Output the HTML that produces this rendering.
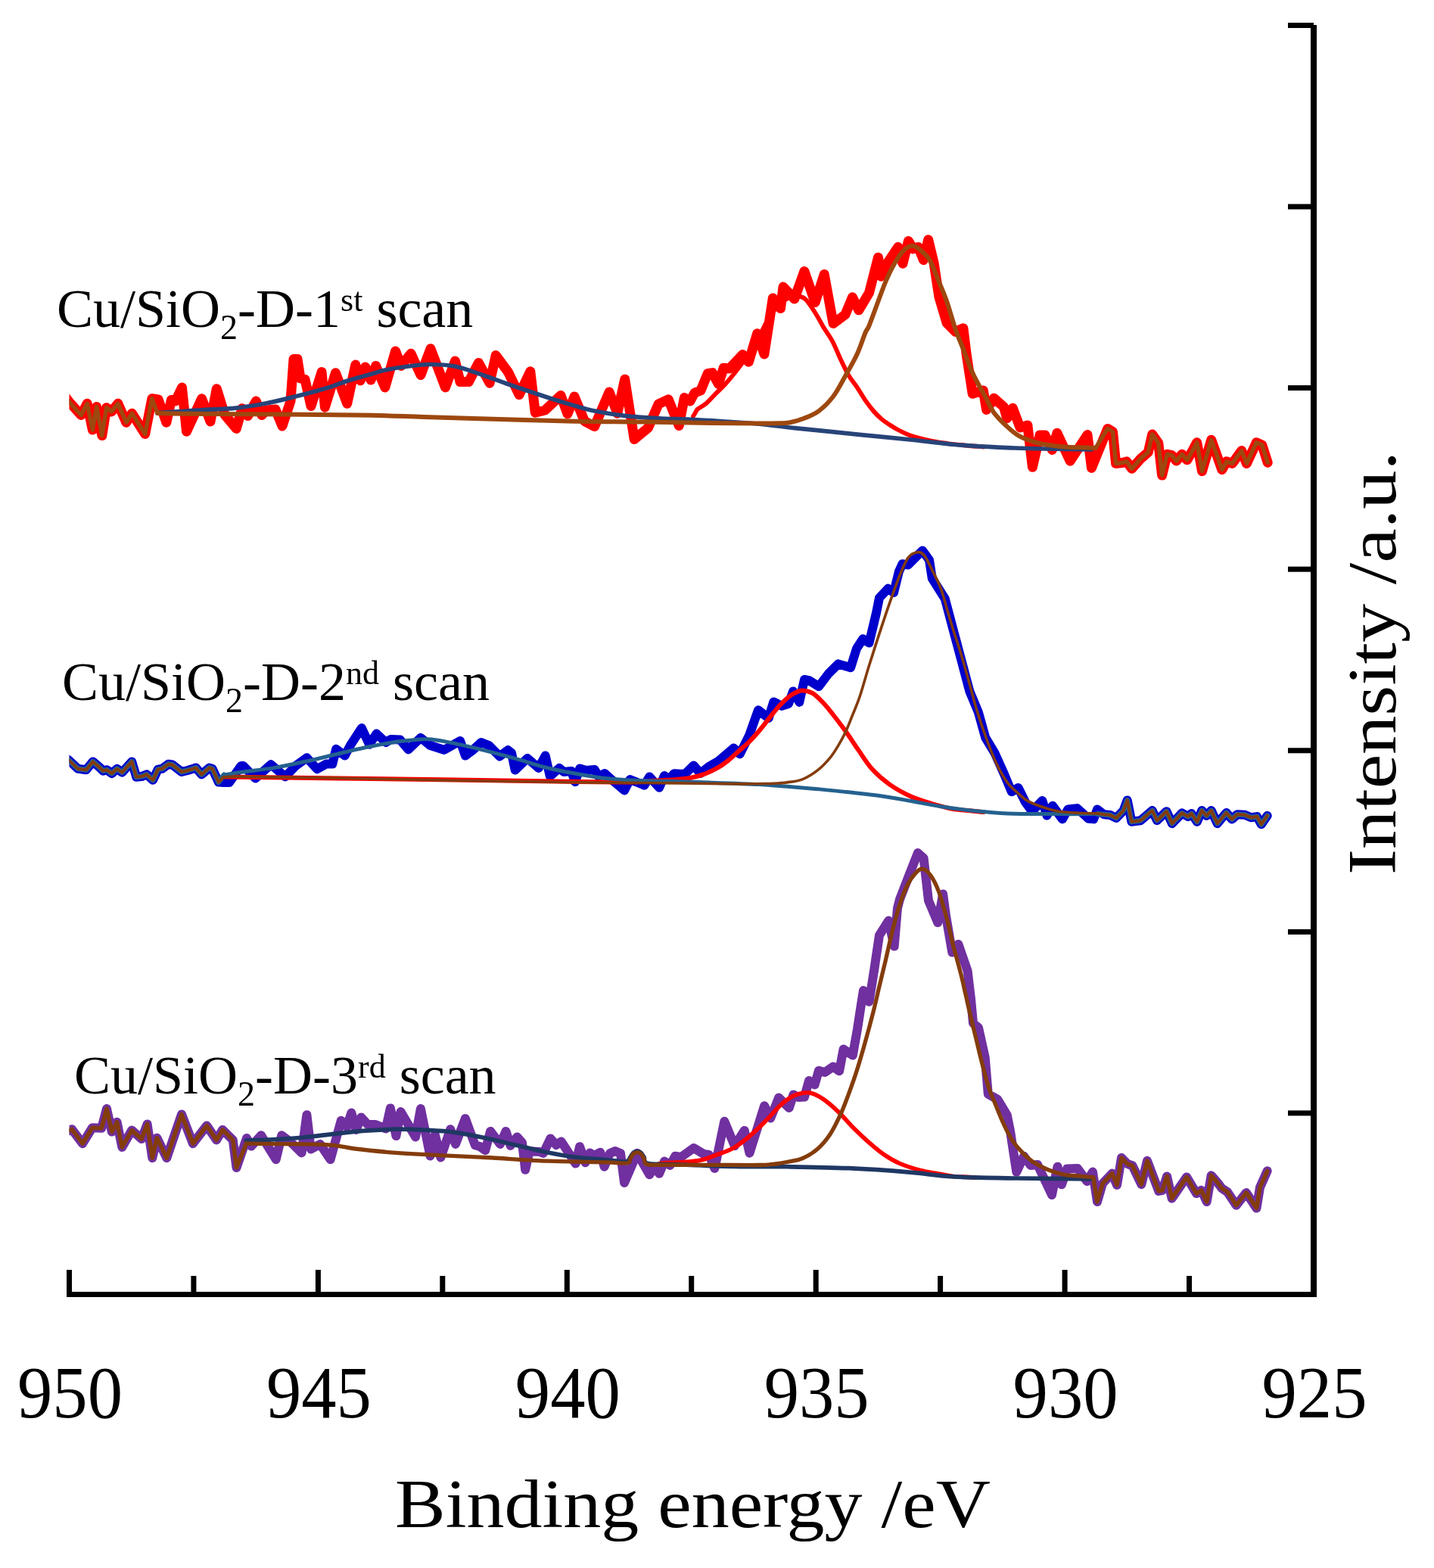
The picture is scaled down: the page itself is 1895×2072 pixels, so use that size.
<!DOCTYPE html>
<html><head><meta charset="utf-8"><title>XPS Cu 2p</title>
<style>
html,body{margin:0;padding:0;background:#fff;}
svg{display:block;}
text{font-family:"Liberation Serif","DejaVu Serif",serif;fill:#000;}
.tk{font-size:98px;}
.lb{font-size:72px;}
.ax{font-size:90px;}
</style></head><body>
<svg xmlns="http://www.w3.org/2000/svg" width="1895" height="2072" viewBox="0 0 1895 2072">
<rect width="1895" height="2072" fill="#fff"/>
<defs><clipPath id="pa"><rect x="91.5" y="0" width="1645" height="1710"/></clipPath></defs>
<g fill="none" stroke-linejoin="round" stroke-linecap="round" clip-path="url(#pa)">
<path d="M86 524 L91.4 531 L107.1 548.5 L115.2 533.3 L122.3 568 L127.7 537.6 L134.8 575.6 L140.7 538.7 L147.2 544.1 L155.9 533.3 L166.8 558.2 L174.4 546.3 L191.7 573.4 L200.9 526.8 L209.1 527.9 L219.9 558.2 L226.4 528.4 L231.8 530 L240.5 512.1 L246.5 570.2 L266.6 526.8 L278 557 L286.3 513.8 L297 548 L312.3 566.4 L319.9 539.8 L327.5 549.6 L338.3 530.1 L345.9 548.5 L352 542 L364 541 L373 563 L384 530 L388 474.5 L393 474.5 L397 500 L403 501.3 L411 536.6 L425.1 491.6 L429.4 538.2 L443.5 492.7 L458.7 533.3 L469.8 482.1 L476.3 502.9 L482.8 485 L490.1 502.1 L496.6 483.4 L508.8 511.9 L522.6 463.9 L530 483.4 L543 467.2 L556 495.6 L569 460.7 L588.5 511.9 L601.5 477 L608 504.6 L619.4 504.6 L632.4 479.4 L647.1 506.2 L655.2 469.6 L671.5 491.6 L686.1 521.7 L700.8 490.8 L707.3 545.3 L720.3 542 L741 522.5 L750 547 L759 524 L772.5 556.5 L785.6 563.6 L805.1 518 L815.9 546.2 L825.7 501.2 L838.2 580.4 L856.6 565.2 L870.2 533.8 L883.2 527.8 L897.3 562.5 L904.3 525.6 L912 530 L918 519 L926 516 L935.2 493.6 L941.4 492.6 L949.4 507.4 L956.2 486.3 L964 487 L981.3 468.6 L989.3 478.3 L1000.7 440.7 L1009.9 468 L1021.3 393.9 L1031.5 407.6 L1035 379.1 L1049.8 395 L1062.9 358.5 L1077.2 399.6 L1089.2 362.5 L1101.1 427.5 L1117.1 415.6 L1126.5 392.8 L1134.8 409.8 L1148.5 387 L1160.5 340.2 L1164.5 365.3 L1173 347 L1186.7 326.5 L1193 348.2 L1200.4 318.5 L1206.7 328.8 L1213.5 326.5 L1220.4 343.6 L1226.7 316.8 L1234 347 L1241 392.7 L1251.2 427 L1262.6 438.3 L1272.9 433.8 L1277.4 470 L1285.2 520.3 L1299.3 515.9 L1303.6 541.4 L1313.4 526.2 L1326.4 537.6 L1330.7 552.8 L1338.3 539.2 L1348 565 L1357.9 562 L1364.4 617.3 L1374.1 575 L1381 575 L1390.4 594.5 L1396.9 572.3 L1414.2 609.2 L1437 574.5 L1442.5 618.4 L1463.7 566.4 L1470.5 570.5 L1474.6 612.5 L1484.7 611.2 L1488.8 609.8 L1495.6 619.3 L1507.8 605.7 L1517.3 597.6 L1522.7 573.9 L1530.8 585.4 L1535.6 628.1 L1542.4 600.3 L1548.5 601.7 L1554.6 609.1 L1562 600.3 L1568.8 607.8 L1575 597 L1581.7 584.7 L1588.5 622.7 L1600.7 581.3 L1614.9 620.7 L1621 609.8 L1628.4 612.5 L1640.7 595.6 L1647.4 612.5 L1660.3 584.7 L1667.8 588.1 L1675.2 611.2" stroke="#ff0000" stroke-width="13"/>
<path d="M916 550 C916.4 549.3 917.5 547.6 918.5 546 C919.5 544.4 919.8 542.5 922 540.5 C924.2 538.5 928.2 537.2 932 534 C935.8 530.8 940.6 525.4 945 521 C949.4 516.6 954.1 512.3 958.5 507.5 C962.9 502.7 967.1 497.6 971.5 492 C975.9 486.4 980.2 480.8 985 474 C989.8 467.2 995 459.7 1000 451 C1005 442.3 1010 430.2 1015 422 C1020 413.8 1025 406.9 1030 402 C1035 397.1 1040.8 394.2 1045 392.5 C1049.2 390.8 1051.7 390.9 1055 391.5 C1058.3 392.1 1061.1 392.1 1065 396 C1068.9 399.9 1074.5 409 1078.3 415 C1082.1 421 1084.4 426 1088 432 C1091.6 438 1096.2 443.7 1100 450.8 C1103.8 457.9 1107.2 467.1 1110.8 474.7 C1114.4 482.3 1118.1 490.2 1121.7 496.4 C1125.3 502.5 1128.9 506.2 1132.5 511.6 C1136.1 517 1139.8 523.7 1143.4 528.9 C1147 534.1 1150.6 538.8 1154.2 543 C1157.8 547.2 1161.5 550.8 1165.1 553.9 C1168.7 557 1172.3 559.1 1175.9 561.5 C1179.5 563.9 1182.3 565.7 1186.8 568 C1191.3 570.3 1195.8 573.1 1203 575.5 C1210.2 577.9 1222 580.8 1230.2 582.5 C1238.4 584.2 1243.7 584.9 1252 586 C1260.3 587.1 1272 588.2 1280 589 C1288 589.8 1296.7 590.2 1300 590.5" stroke="#ff0000" stroke-width="5.8"/>
<path d="M208 545.7 C213.3 545.3 229.7 544.2 240 543.5 C250.3 542.8 258.3 542.2 270 541.5 C281.7 540.8 296.7 540.7 310 539.3 C323.3 537.9 336.7 535.8 350 533.3 C363.3 530.8 376.7 527.4 390 524.1 C403.3 520.8 418.3 516.8 430 513.3 C441.7 509.8 450 506.1 460 503 C470 499.9 481.8 496.8 490 494.5 C498.2 492.2 500.7 490.8 509 489 C517.3 487.2 530.3 485.2 540 484 C549.7 482.8 556.8 481.5 567 481.5 C577.2 481.5 589 481.6 601 484 C613 486.4 627.3 492.1 639 496 C650.7 499.9 657.5 502.8 671 507.5 C684.5 512.2 708.2 520.1 720 524 C731.8 527.9 735.3 529 742 531 C748.7 533 753.2 534.4 760 536.3 C766.8 538.2 771.8 540.3 783 542.5 C794.2 544.7 812.5 547.9 827 549.6 C841.5 551.3 855.7 552 870 552.8 C884.3 553.6 898.3 553.7 913 554.4 C927.7 555.1 943.5 556.1 958 557 C972.5 557.9 984.7 558.6 1000 560 C1015.3 561.4 1033.3 563.8 1050 565.6 C1066.7 567.4 1082.7 569 1100 570.7 C1117.3 572.5 1136 574.3 1154 576.1 C1172 577.9 1190 579.6 1208 581.5 C1226 583.4 1246.7 586 1262 587.5 C1277.3 589 1287 589.5 1300 590.2 C1313 591 1327 591.5 1340 592 C1353 592.5 1361 592.7 1378 593 C1395 593.3 1431.3 593.8 1442 594" stroke="#274479" stroke-width="5.7"/>
<path d="M86 524 L91.4 531 L107.1 548.5 L115.2 533.3 L122.3 568 L127.7 537.6 L134.8 575.6 L140.7 538.7 L147.2 544.1 L155.9 533.3 L166.8 558.2 L174.4 546.3 L191.7 573.4 L200.9 526.8 L208 546" stroke="#9d480f" stroke-width="5.5"/>
<path d="M208 546 C218.3 546.1 226.3 546.5 270 546.9 C313.7 547.3 421.7 547.8 470 548.5 C518.3 549.2 528.3 550.1 560 551 C591.7 551.9 626.7 553 660 554 C693.3 555 728.3 556.1 760 556.7 C791.7 557.3 820 557.1 850 557.5 C880 557.9 915 558.7 940 559 C965 559.3 985 559.5 1000 559.5 C1015 559.5 1022.7 559.5 1030 559.3 C1037.3 559.1 1038.7 559.2 1044 558.2 C1049.3 557.2 1055.7 555.5 1062 553 C1068.3 550.5 1075.2 548.1 1081.7 543.3 C1088.2 538.5 1095.1 531.7 1101 524 C1106.9 516.3 1111.8 506.3 1117 497 C1122.2 487.7 1128.1 477.7 1132.5 468.2 C1136.9 458.7 1140.7 446.3 1143.4 440 C1146.1 433.7 1145.7 437.1 1148.5 430.3 C1151.3 423.6 1156.2 409.6 1160 399.5 C1163.8 389.4 1167.5 378.6 1171.3 369.9 C1175.1 361.1 1178.9 353.5 1182.7 347 C1186.5 340.5 1190.4 334.8 1194.2 331.1 C1198 327.4 1201.8 324.8 1205.6 324.8 C1209.4 324.8 1213.2 328 1217 331.1 C1220.8 334.2 1224.6 337.1 1228.4 343.6 C1232.2 350.1 1236 360.8 1239.8 369.9 C1243.6 379 1247.4 387.5 1251.2 398.4 C1255 409.2 1258.9 424.2 1262.6 435 C1266.3 445.8 1269.9 453.7 1273.5 463 C1277.1 472.3 1281.2 483.5 1284.4 491 C1287.7 498.5 1290 502.3 1293 508 C1296 513.7 1299.1 518.8 1302.5 525 C1305.9 531.2 1308.9 538.9 1313.4 545.2 C1317.9 551.5 1324.3 557.5 1329.7 562.6 C1335.1 567.7 1339.6 572 1345.9 575.6 C1352.2 579.2 1360.4 582.1 1367.6 584.3 C1374.8 586.5 1382.1 587.5 1389.3 588.6 C1396.5 589.7 1401.2 590.3 1411 590.8 C1420.8 591.3 1441.8 591.6 1448 591.8" stroke="#9d480f" stroke-width="6"/>
<path d="M1448 591.8 L1463.7 566.4 L1470.5 570.5 L1474.6 612.5 L1484.7 611.2 L1488.8 609.8 L1495.6 619.3 L1507.8 605.7 L1517.3 597.6 L1522.7 573.9 L1530.8 585.4 L1535.6 628.1 L1542.4 600.3 L1548.5 601.7 L1554.6 609.1 L1562 600.3 L1568.8 607.8 L1575 597 L1581.7 584.7 L1588.5 622.7 L1600.7 581.3 L1614.9 620.7 L1621 609.8 L1628.4 612.5 L1640.7 595.6 L1647.4 612.5 L1660.3 584.7 L1667.8 588.1 L1675.2 611.2" stroke="#9d480f" stroke-width="5.5"/>
<path d="M86 1001 L91.5 1005.1 L103 1015.9 L113.9 1017.3 L122.7 1006.4 L131.5 1013.9 L136.3 1018.6 L141 1017.3 L147.8 1022 L154.6 1015.9 L161.3 1020.7 L174.2 1006.4 L180.3 1026.8 L187.1 1026.1 L193.9 1023.4 L202 1030.8 L208.8 1016.6 L214.2 1015.9 L222.4 1009.8 L227.8 1010.5 L240 1020 L248.1 1018 L259 1014.6 L266.4 1023.4 L276.6 1014.6 L280.7 1016 L288.8 1033.5 L296 1034 L303 1034 L318.6 1012 L321.4 1012 L337.6 1028.5 L358 1010.2 L377 1026.4 L390.5 1012.2 L405.4 1001.3 L419 1016.3 L431.2 1009.5 L439.3 1009.5 L444.1 989.8 L455.6 998.6 L463.7 983.7 L477.9 962 L488.1 983.7 L497.6 969.5 L509.8 981 L516.6 976.9 L528.8 977.6 L539.6 990.5 L555.9 974.9 L568.5 985.1 L587.1 990.9 L608.1 979 L614.9 998.6 L624 992 L635.9 981 L646 985 L660.3 999.4 L671.2 991.2 L676 995 L680.7 1017.6 L696.9 1002 L711.8 1014.9 L720.7 998.6 L726.8 1025.7 L739 1014.9 L745 1020 L755 1019 L760 1033.2 L766.1 1015.6 L775 1018 L785.7 1016.9 L791 1026 L799 1022 L808 1030 L825.1 1044.5 L832.5 1030.1 L845 1035 L851.5 1037.7 L858.3 1026.4 L871.2 1040.7 L878 1025 L884 1030 L890.8 1022.3 L905 1023 L916.6 1011.5 L925.5 1022 L936.9 1012.9 L949 1006 L969.5 988.5 L977.6 996.6 L990 972 L1002 938.3 L1015.6 949.1 L1022.3 927.5 L1033.2 932.9 L1042 930 L1048.1 913.5 L1056.3 927.9 L1063 898 L1069.1 899.1 L1082 907.2 L1095 890 L1107.8 877.4 L1124.1 882.2 L1132 857 L1140.3 844.2 L1148.5 849.6 L1158 810 L1162 790 L1173.5 777.8 L1181 783.2 L1188 755 L1192.5 745.2 L1200 746.6 L1219 727.6 L1228 740 L1231.8 764.2 L1248.8 791.3 L1259.6 832 L1270.5 872.7 L1281.3 913.4 L1292.7 940.7 L1302.2 974.6 L1314.4 994.9 L1326.6 1022 L1336.8 1046.3 L1345.6 1041 L1355 1060 L1363.9 1072.2 L1377.4 1058 L1383.5 1077.6 L1391 1064.7 L1403.9 1082.4 L1411.3 1069.5 L1423.5 1068.1 L1438.4 1081.7 L1445.2 1082.4 L1450 1069.5 L1458.8 1076.2 L1466.9 1076.9 L1475 1081 L1484.6 1071.1 L1489.7 1057.4 L1495.4 1085.9 L1507.3 1084.2 L1522.7 1071.1 L1529 1084.2 L1541.5 1072.2 L1548.9 1088.2 L1562 1074.5 L1570 1079.1 L1574.5 1075.1 L1581.9 1085.9 L1588.2 1071.1 L1594.5 1077.9 L1600.7 1071.1 L1608.7 1088.2 L1620.6 1074 L1628 1082.5 L1634.9 1076.2 L1645.1 1076.8 L1653.1 1080.2 L1661.1 1079.1 L1666.8 1089.3 L1674.7 1077.9" stroke="#0000cc" stroke-width="12"/>
<path d="M296 1026.5 C346.7 1027.2 514.3 1029.3 600 1030.5 C685.7 1031.7 766.7 1033.3 810 1033.6 C853.3 1033.8 847.2 1032.5 860 1032 C872.8 1031.5 878.7 1031.1 886.8 1030.5 C894.9 1029.9 901.5 1029.6 908.5 1028.5 C915.5 1027.4 922 1026.1 928.8 1023.7 C935.6 1021.3 943.5 1017.4 949.1 1014.2 C954.8 1011 958.2 1008.3 962.7 1004.7 C967.2 1001.1 971.7 996.5 976.2 992.5 C980.7 988.5 985.3 985 989.8 980.5 C994.3 976 998.9 970.8 1003.4 965.5 C1007.9 960.2 1012.4 954.1 1016.9 948.5 C1021.4 942.9 1026 936.8 1030.5 932 C1035 927.2 1040.4 922.3 1044 919.5 C1047.6 916.7 1049.3 916.2 1052 915 C1054.7 913.8 1056.6 912.3 1060.3 912.5 C1064 912.7 1069.4 913.5 1073.9 916.1 C1078.4 918.7 1083 923.6 1087.5 928.3 C1092 933 1096 938.2 1101 944.5 C1106 950.8 1111.6 958.2 1117.3 966.1 C1123 974 1129 983.5 1134.9 991.9 C1140.8 1000.3 1145.7 1008.8 1152.5 1016.3 C1159.3 1023.8 1167.2 1030.6 1175.6 1036.6 C1184 1042.5 1193.7 1047.8 1202.7 1052 C1211.7 1056.2 1220.8 1058.8 1229.8 1061.5 C1238.8 1064.2 1247.9 1066.8 1256.9 1068.5 C1265.9 1070.2 1276.8 1070.8 1284 1071.5 C1291.2 1072.2 1297.3 1072.8 1300 1073" stroke="#ff0000" stroke-width="6"/>
<path d="M86 1001 L91.5 1005.1 L103 1015.9 L113.9 1017.3 L122.7 1006.4 L131.5 1013.9 L136.3 1018.6 L141 1017.3 L147.8 1022 L154.6 1015.9 L161.3 1020.7 L174.2 1006.4 L180.3 1026.8 L187.1 1026.1 L193.9 1023.4 L202 1030.8 L208.8 1016.6 L214.2 1015.9 L222.4 1009.8 L227.8 1010.5 L240 1020 L248.1 1018 L259 1014.6 L266.4 1023.4 L276.6 1014.6 L280.7 1016 L288.8 1033.5 L296 1024" stroke="#24618f" stroke-width="7"/>
<path d="M296 1024 C300 1023.4 309.2 1021.8 320 1020.3 C330.8 1018.8 347.1 1017.1 360.7 1014.9 C374.2 1012.6 387.8 1009.7 401.3 1006.8 C414.9 1003.9 428.4 1000.5 442 997.3 C455.6 994.1 469.1 990.6 482.7 987.8 C496.3 985 512.2 982 523.4 980.3 C534.6 978.6 542.2 978 550 977.5 C557.8 977 561.5 976.2 570 977 C578.5 977.8 588.8 979.9 600.7 982.4 C612.6 984.9 627.8 988.5 641.3 991.9 C654.8 995.3 668.4 998.9 682 1002.7 C695.6 1006.5 709.1 1011.1 722.7 1014.5 C736.3 1017.9 750.5 1020.5 763.4 1022.8 C776.3 1025.1 787.2 1027.1 800 1028.5 C812.8 1029.9 826.5 1030.7 840 1031.3 C853.5 1031.9 865.4 1031.8 881.3 1032.3 C897.2 1032.8 915.2 1033.3 935.6 1034 C956 1034.7 986 1035.7 1003.4 1036.6 C1020.8 1037.5 1027.1 1038.3 1040 1039.3 C1052.9 1040.3 1067.2 1041.5 1080.7 1042.7 C1094.2 1044 1107.8 1045.3 1121.3 1046.8 C1134.8 1048.3 1148.4 1049.6 1162 1051.5 C1175.6 1053.4 1189.1 1055.9 1202.7 1058.3 C1216.3 1060.7 1228.9 1063.5 1243.4 1065.7 C1258 1068 1275.3 1070.3 1290 1071.8 C1304.7 1073.3 1315.4 1074.3 1331.3 1074.9 C1347.2 1075.5 1365.7 1075.5 1385.6 1075.6 C1405.5 1075.7 1439.8 1075.6 1450.7 1075.6" stroke="#24618f" stroke-width="5"/>
<path d="M1450.7 1075.6 L1458.8 1076.2 L1466.9 1076.9 L1475 1081 L1484.6 1071.1 L1489.7 1057.4 L1495.4 1085.9 L1507.3 1084.2 L1522.7 1071.1 L1529 1084.2 L1541.5 1072.2 L1548.9 1088.2 L1562 1074.5 L1570 1079.1 L1574.5 1075.1 L1581.9 1085.9 L1588.2 1071.1 L1594.5 1077.9 L1600.7 1071.1 L1608.7 1088.2 L1620.6 1074 L1628 1082.5 L1634.9 1076.2 L1645.1 1076.8 L1653.1 1080.2 L1661.1 1079.1 L1666.8 1089.3 L1674.7 1077.9" stroke="#24618f" stroke-width="7"/>
<path d="M86 1001 L91.5 1005.1 L103 1015.9 L113.9 1017.3 L122.7 1006.4 L131.5 1013.9 L136.3 1018.6 L141 1017.3 L147.8 1022 L154.6 1015.9 L161.3 1020.7 L174.2 1006.4 L180.3 1026.8 L187.1 1026.1 L193.9 1023.4 L202 1030.8 L208.8 1016.6 L214.2 1015.9 L222.4 1009.8 L227.8 1010.5 L240 1020 L248.1 1018 L259 1014.6 L266.4 1023.4 L276.6 1014.6 L280.7 1016 L288.8 1033.5 L296 1026.8" stroke="#843c0c" stroke-width="4"/>
<path d="M296 1026.8 C300 1026.7 294.3 1026.2 320 1026.4 C345.7 1026.7 403.3 1027.5 450 1028.3 C496.7 1029.1 558.3 1030.5 600 1031.3 C641.7 1032 665 1032.3 700 1032.8 C735 1033.3 777.5 1033.9 810 1034.3 C842.5 1034.7 867.3 1034.6 895 1034.9 C922.7 1035.2 955.7 1035.8 976 1035.9 C996.3 1036 1008 1035.7 1017 1035.5 C1026 1035.3 1026.2 1035.1 1030 1034.8 C1033.8 1034.5 1035 1034.7 1040 1033.9 C1045 1033.1 1053.5 1032.5 1060.3 1029.8 C1067.1 1027.1 1074.6 1022.4 1080.7 1017.6 C1086.8 1012.9 1092.4 1006.7 1096.9 1001.3 C1101.4 995.9 1104.4 990.7 1107.8 985.1 C1111.2 979.5 1114.1 974.3 1117.3 967.5 C1120.5 960.7 1123.6 952.3 1126.8 944.4 C1130 936.5 1132.7 930.8 1136.3 920 C1139.9 909.2 1144.2 893.3 1148.5 879.5 C1152.8 865.7 1157.5 851.2 1162 837.4 C1166.5 823.6 1171.1 809.7 1175.6 796.8 C1180.1 783.9 1185 770.2 1189.1 760.2 C1193.2 750.2 1196.2 742.2 1200 737.1 C1203.8 732 1208.6 730.2 1212.2 729.7 C1215.8 729.2 1218.3 730.2 1221.7 734.4 C1225.1 738.6 1228.9 747.5 1232.5 754.7 C1236.1 761.9 1240.2 769.4 1243.4 777.8 C1246.6 786.2 1248.8 795.9 1251.5 804.9 C1254.2 813.9 1256.4 821.8 1259.6 832 C1262.8 842.2 1266.9 853.9 1270.5 865.9 C1274.1 877.9 1277.9 892 1281.3 904 C1284.7 916 1286.9 925.7 1290.7 938 C1294.5 950.3 1299.7 965.8 1304.2 978 C1308.7 990.2 1313.3 1001.8 1317.8 1011.2 C1322.3 1020.6 1326.8 1028.1 1331.3 1034.2 C1335.8 1040.3 1340.4 1043.7 1344.9 1047.8 C1349.4 1051.9 1352.8 1055.4 1358.5 1058.6 C1364.2 1061.8 1372 1064.5 1378.8 1066.8 C1385.6 1069.1 1391.2 1071 1399.1 1072.2 C1407 1073.4 1417.6 1073.8 1426.2 1074.2 C1434.8 1074.7 1446.6 1074.8 1450.7 1074.9" stroke="#843c0c" stroke-width="3.6"/>
<path d="M1450.7 1074.9 L1458.8 1076.2 L1466.9 1076.9 L1475 1081 L1484.6 1071.1 L1489.7 1057.4 L1495.4 1085.9 L1507.3 1084.2 L1522.7 1071.1 L1529 1084.2 L1541.5 1072.2 L1548.9 1088.2 L1562 1074.5 L1570 1079.1 L1574.5 1075.1 L1581.9 1085.9 L1588.2 1071.1 L1594.5 1077.9 L1600.7 1071.1 L1608.7 1088.2 L1620.6 1074 L1628 1082.5 L1634.9 1076.2 L1645.1 1076.8 L1653.1 1080.2 L1661.1 1079.1 L1666.8 1089.3 L1674.7 1077.9" stroke="#843c0c" stroke-width="4"/>
<path d="M86 1493 L91.5 1494.2 L94.9 1492.2 L109.1 1511.2 L122 1490.2 L134.2 1490.8 L141 1465.1 L147.8 1495.6 L154.6 1482.7 L161.3 1515.9 L174.2 1493.6 L187.1 1505.1 L194.6 1485.4 L201.3 1530.2 L207.4 1503.7 L220.3 1530.2 L240 1472.5 L254.9 1511.2 L273.2 1487.5 L286.1 1506.4 L294.2 1492.9 L307.8 1506.4 L312.5 1543 L326 1504 L332.2 1514.6 L345.1 1500.3 L364.7 1532.2 L372.2 1500.3 L385 1510 L398.6 1523.4 L405.4 1473.2 L410.8 1518.6 L423 1511.9 L436.6 1532.2 L450.8 1480.7 L458.3 1489 L464.4 1470.5 L470.5 1492.9 L477.3 1476.6 L486 1486 L496.2 1486.1 L509.8 1491.5 L515.9 1464.4 L523.4 1501 L529.5 1469.1 L549.1 1502.4 L555.9 1465.1 L568.5 1527.5 L574.9 1499.7 L582.4 1529.5 L595.2 1492.2 L602 1511.9 L614.9 1478 L627.8 1513.2 L634 1515 L641.3 1520 L648.1 1494.9 L661 1511.9 L668.5 1494.9 L674.6 1513.9 L683.4 1502.4 L690 1510 L694.2 1545.7 L699.6 1521.3 L713 1522 L718 1524 L727.4 1504.4 L735 1513 L741.7 1508.5 L760.7 1537.6 L766.1 1515.2 L773.5 1536.3 L779.6 1523.4 L785 1527 L793.2 1522.7 L798.6 1541.7 L806 1524 L812.9 1521.1 L820 1524 L825.1 1563 L842 1523.7 L858.3 1552.3 L865 1542 L871.2 1550.8 L878 1534.6 L885.4 1540 L892.2 1527.8 L900 1529 L916.6 1517 L930 1525 L937 1526 L944.4 1544 L957.3 1481.7 L970.8 1514.2 L983.7 1493.9 L990.5 1523.7 L1010.1 1461.3 L1018.3 1477.6 L1029.1 1450.5 L1042.7 1464.1 L1048.5 1446.4 L1055 1450 L1063 1449.5 L1069.1 1428 L1076.6 1433.4 L1082 1414.7 L1090 1417 L1101 1409.5 L1109.1 1415.3 L1114.6 1386.4 L1126.8 1394.6 L1133 1360 L1137.6 1330 L1141 1308.8 L1148.5 1323.7 L1155 1283 L1162 1236 L1174.2 1216.6 L1181.7 1250.5 L1186 1200 L1189.1 1188.1 L1200 1160 L1212.9 1127.1 L1220.6 1134 L1227 1190 L1239.3 1219.3 L1246.1 1181.4 L1250 1210 L1258.3 1258.6 L1266.4 1247.8 L1278.6 1283 L1283 1320 L1286 1352 L1293 1358 L1301.7 1397.2 L1305.8 1445.8 L1318.3 1452.8 L1330.8 1473.6 L1335 1494.4 L1343.3 1548.6 L1353 1527.8 L1362 1540 L1371.1 1539 L1390 1579 L1397.5 1541.7 L1403 1565.3 L1410 1544.4 L1424 1544 L1436.4 1561.1 L1444 1548.6 L1450 1588 L1457 1564 L1469.7 1550.5 L1476 1566 L1482 1530 L1490 1538.1 L1496.5 1540.3 L1508.4 1565.2 L1516 1533.8 L1531.2 1573.9 L1536 1573 L1542.1 1554.4 L1548.6 1583.6 L1568.1 1555.4 L1581.1 1577.1 L1587.6 1572.8 L1594.7 1588 L1600.6 1553.3 L1610 1564 L1614.6 1570.3 L1622 1575.1 L1633.7 1592.7 L1646.9 1576.1 L1660.5 1596.6 L1665 1569 L1674.7 1547.3" stroke="#7030a0" stroke-width="12"/>
<path d="M870 1538 C871.9 1537.8 872.6 1537.3 881.3 1536.6 C890 1535.9 910.7 1535.8 922 1533.9 C933.3 1532 941.2 1527.9 949.1 1525.1 C957 1522.3 962.7 1520.8 969.5 1516.9 C976.3 1513.1 983 1507.7 989.8 1502 C996.6 1496.3 1003.3 1489.8 1010.1 1483 C1016.9 1476.2 1025.2 1466.5 1030.5 1461.3 C1035.8 1456.1 1038.2 1454.5 1042 1452 C1045.8 1449.5 1049 1447.4 1053.6 1446.1 C1058.2 1444.8 1064.1 1443 1069.8 1444 C1075.5 1445 1081.2 1448 1087.5 1452.2 C1093.8 1456.4 1101 1462.7 1107.8 1469.1 C1114.6 1475.5 1121.3 1484 1128.1 1490.8 C1134.9 1497.6 1141.7 1503.9 1148.5 1509.8 C1155.3 1515.7 1162 1521.5 1168.8 1526.1 C1175.6 1530.7 1181.2 1534.1 1189.1 1537.5 C1197 1540.9 1207.7 1544.2 1216.2 1546.5 C1224.7 1548.8 1232.7 1549.7 1240 1551 C1247.3 1552.3 1251.7 1553.7 1260 1554.5 C1268.3 1555.3 1285 1555.8 1290 1556" stroke="#ff0000" stroke-width="5.7"/>
<path d="M325.4 1507.1 C331.3 1506.9 348 1506.5 360.7 1505.8 C373.4 1505.1 387.8 1504.2 401.3 1503 C414.9 1501.8 428.4 1499.8 442 1498.3 C455.6 1496.8 469.1 1495.2 482.7 1494.2 C496.3 1493.2 510.5 1492.4 523.4 1492.2 C536.3 1492 547.1 1492.5 560 1493.2 C572.9 1493.9 587.2 1494.5 600.7 1496.3 C614.2 1498 627.8 1500.9 641.3 1503.7 C654.8 1506.5 668.4 1510 682 1513.2 C695.6 1516.4 709.1 1520 722.7 1522.7 C736.3 1525.4 750.5 1527.9 763.4 1529.5 C776.3 1531.1 789.4 1531.6 800 1532.5 C810.6 1533.4 821.5 1535.6 827 1535 C832.5 1534.4 831.2 1531.1 833 1529 C834.8 1526.9 835.8 1523.6 838 1522.5 C840.2 1521.4 843.8 1521.4 846 1522.5 C848.2 1523.6 849.2 1526.5 851 1529 C852.8 1531.5 848.8 1535.8 857 1537.5 C865.2 1539.2 881.2 1538.3 900 1539 C918.8 1539.7 946.2 1541 969.5 1541.5 C992.8 1542 1014.7 1541.3 1040 1541.7 C1065.3 1542.1 1094.2 1542.5 1121.3 1543.7 C1148.4 1544.9 1179.6 1547.2 1202.7 1549.1 C1225.8 1551 1236.6 1553.6 1260 1554.9 C1283.4 1556.2 1312.5 1556.5 1343.3 1557 C1374.1 1557.5 1428 1557.7 1445 1557.8" stroke="#1f3864" stroke-width="5.7"/>
<path d="M86 1493 L91.5 1494.2 L94.9 1492.2 L109.1 1511.2 L122 1490.2 L134.2 1490.8 L141 1465.1 L147.8 1495.6 L154.6 1482.7 L161.3 1515.9 L174.2 1493.6 L187.1 1505.1 L194.6 1485.4 L201.3 1530.2 L207.4 1503.7 L220.3 1530.2 L240 1472.5 L254.9 1511.2 L273.2 1487.5 L286.1 1506.4 L294.2 1492.9 L307.8 1506.4 L312.5 1543 L325.4 1511.2" stroke="#843c0c" stroke-width="5.5"/>
<path d="M325.4 1511.2 C342.6 1511.4 404.6 1511.4 428.5 1512.5 C452.4 1513.6 453.3 1516.2 469.1 1518 C484.9 1519.8 506.6 1522.1 523.4 1523.4 C540.2 1524.8 550.4 1525.1 570 1526.1 C589.6 1527.1 615.8 1528.2 641.3 1529.5 C666.8 1530.8 696.2 1533.1 722.7 1534.2 C749.2 1535.3 782.3 1535.4 800 1535.9 C817.7 1536.4 823.5 1537.8 829 1537 C834.5 1536.2 831.5 1533.2 833 1531 C834.5 1528.8 835.8 1525.2 838 1524 C840.2 1522.8 843.8 1522.8 846 1524 C848.2 1525.2 849.5 1528.6 851 1531 C852.5 1533.4 850 1537.2 855 1538.6 C860 1540 867.9 1539.2 881.3 1539.3 C894.7 1539.4 915.2 1539.3 935.6 1539.3 C956 1539.3 988.5 1539.7 1003.4 1539.5 C1018.3 1539.3 1018.9 1538.7 1025 1538 C1031.1 1537.3 1034.1 1536.7 1040 1535.5 C1045.9 1534.3 1053.5 1533.7 1060.3 1530.8 C1067.1 1527.9 1074.6 1523.2 1080.7 1517.9 C1086.8 1512.6 1091.9 1506.5 1096.9 1499 C1101.9 1491.5 1106.4 1482 1110.5 1473.2 C1114.6 1464.4 1117.7 1455.8 1121.3 1446.1 C1124.9 1436.4 1128.6 1426.2 1132.2 1414.9 C1135.8 1403.6 1139.4 1391.2 1143 1378.3 C1146.6 1365.4 1150.7 1350.1 1153.9 1337.6 C1157.1 1325.1 1159.3 1314.8 1162 1303.4 C1164.7 1292.1 1167.3 1281.9 1170.2 1269.5 C1173.1 1257.1 1176.4 1241.2 1179.6 1228.8 C1182.8 1216.4 1185.9 1204.6 1189.1 1194.9 C1192.3 1185.2 1195.2 1177.3 1198.6 1170.5 C1202 1163.7 1206.1 1157.9 1209.5 1154.2 C1212.9 1150.5 1215.6 1147.6 1219 1148.1 C1222.4 1148.5 1226.2 1151.8 1229.8 1156.9 C1233.4 1162 1237.1 1168.9 1240.7 1178.6 C1244.3 1188.3 1248.3 1203.5 1251.5 1215.2 C1254.7 1227 1256.4 1236.7 1259.6 1249.1 C1262.8 1261.5 1267.8 1279 1270.5 1289.8 C1273.2 1300.6 1274.2 1306.3 1276 1314 C1277.8 1321.7 1278.8 1326.7 1281 1336 C1283.2 1345.3 1286.5 1358.7 1289.2 1370 C1292 1381.3 1294.7 1393.2 1297.5 1404 C1300.3 1414.8 1302.8 1425.4 1305.8 1434.7 C1308.8 1444 1312.1 1451.1 1315.6 1459.7 C1319.1 1468.3 1323 1478.2 1326.7 1486.1 C1330.4 1494 1333.9 1500.9 1337.8 1506.9 C1341.7 1512.9 1345.9 1517.6 1350.3 1522.2 C1354.7 1526.8 1358.4 1530.8 1364.2 1534.7 C1370 1538.6 1378.1 1542.9 1385 1545.8 C1391.9 1548.7 1398.8 1550.7 1405.8 1552.1 C1412.8 1553.5 1420.2 1553.6 1426.7 1554.2 C1433.2 1554.8 1441.7 1555.4 1444.7 1555.6" stroke="#843c0c" stroke-width="5.3"/>
<path d="M1444.7 1555.6 L1450 1588 L1457 1564 L1469.7 1550.5 L1476 1566 L1482 1530 L1490 1538.1 L1496.5 1540.3 L1508.4 1565.2 L1516 1533.8 L1531.2 1573.9 L1536 1573 L1542.1 1554.4 L1548.6 1583.6 L1568.1 1555.4 L1581.1 1577.1 L1587.6 1572.8 L1594.7 1588 L1600.6 1553.3 L1610 1564 L1614.6 1570.3 L1622 1575.1 L1633.7 1592.7 L1646.9 1576.1 L1660.5 1596.6 L1665 1569 L1674.7 1547.3" stroke="#843c0c" stroke-width="5.5"/>
</g>
<g fill="#000">
<rect x="88" y="1678" width="7" height="33"/>
<rect x="252.4" y="1686" width="7" height="25"/>
<rect x="416.9" y="1678" width="7" height="33"/>
<rect x="581.3" y="1686" width="7" height="25"/>
<rect x="745.8" y="1678" width="7" height="33"/>
<rect x="910.2" y="1686" width="7" height="25"/>
<rect x="1074.7" y="1678" width="7" height="33"/>
<rect x="1239.1" y="1686" width="7" height="25"/>
<rect x="1403.6" y="1678" width="7" height="33"/>
<rect x="1568" y="1686" width="7" height="25"/>
<rect x="88" y="1707" width="1652" height="7"/>
<rect x="1732" y="33" width="8" height="1681"/>
<rect x="1702" y="30" width="34" height="7"/>
<rect x="1702" y="269.6" width="34" height="7"/>
<rect x="1702" y="509.1" width="34" height="7"/>
<rect x="1702" y="748.7" width="34" height="7"/>
<rect x="1702" y="988.3" width="34" height="7"/>
<rect x="1702" y="1227.9" width="34" height="7"/>
<rect x="1702" y="1467.4" width="34" height="7"/>
</g>
<text x="23" y="1873" class="tk" textLength="139" lengthAdjust="spacingAndGlyphs">950</text>
<text x="351.9" y="1873" class="tk" textLength="139" lengthAdjust="spacingAndGlyphs">945</text>
<text x="680.8" y="1873" class="tk" textLength="139" lengthAdjust="spacingAndGlyphs">940</text>
<text x="1009.7" y="1873" class="tk" textLength="139" lengthAdjust="spacingAndGlyphs">935</text>
<text x="1338.6" y="1873" class="tk" textLength="139" lengthAdjust="spacingAndGlyphs">930</text>
<text x="1667.5" y="1873" class="tk" textLength="139" lengthAdjust="spacingAndGlyphs">925</text>
<text class="lb" x="75" y="432">Cu/SiO<tspan dy="16" font-size="46">2</tspan><tspan dy="-16">-D-1</tspan><tspan dy="-21" font-size="44">st</tspan><tspan dy="21"> scan</tspan></text>
<text class="lb" x="82" y="924.6">Cu/SiO<tspan dy="16" font-size="46">2</tspan><tspan dy="-16">-D-2</tspan><tspan dy="-21" font-size="44">nd</tspan><tspan dy="21"> scan</tspan></text>
<text class="lb" x="98" y="1444.6">Cu/SiO<tspan dy="16" font-size="46">2</tspan><tspan dy="-16">-D-3</tspan><tspan dy="-21" font-size="44">rd</tspan><tspan dy="21"> scan</tspan></text>
<text class="ax" x="522" y="2018" textLength="787" lengthAdjust="spacingAndGlyphs">Binding energy /eV</text>
<text class="ax" transform="translate(1843.5 1156) rotate(-90)" x="0" y="0" textLength="560" lengthAdjust="spacingAndGlyphs">Intensity /a.u.</text>
</svg>
</body></html>
